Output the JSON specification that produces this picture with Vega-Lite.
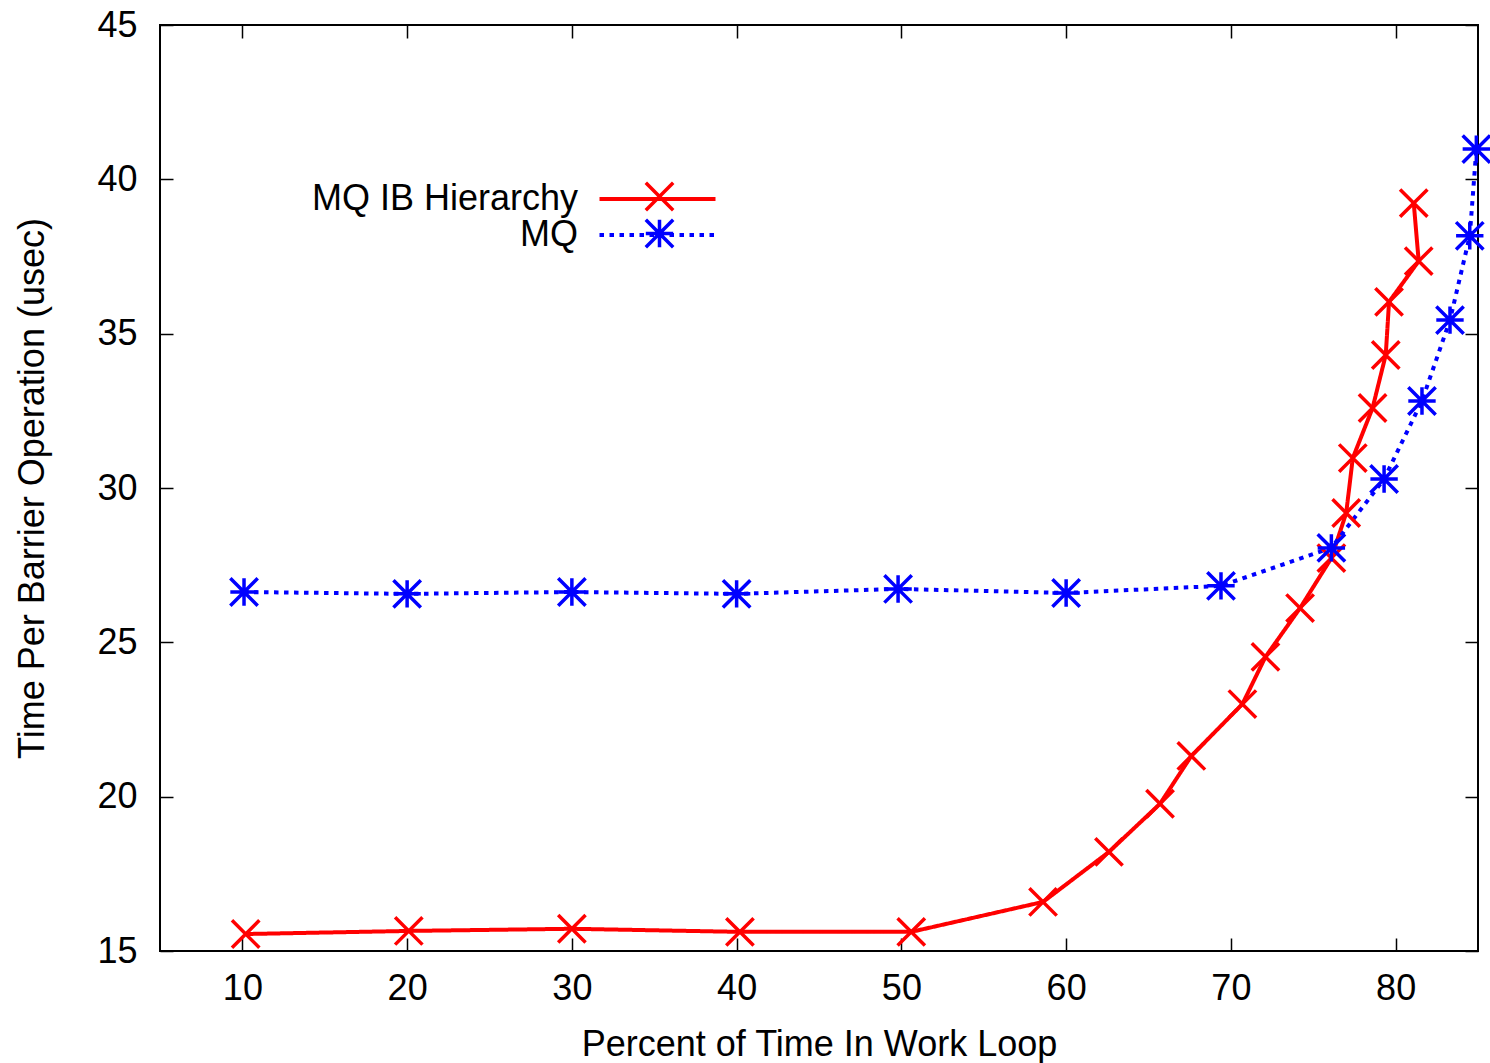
{
  "$schema": "https://vega.github.io/schema/vega-lite/v6.json",
  "width": 1318,
  "height": 926,
  "autosize": {"type": "none"},
  "padding": {"left": 160, "top": 25, "right": 12, "bottom": 112},
  "background": "white",
  "config": {
    "font": "Liberation Sans",
    "view": {"stroke": "black", "strokeWidth": 2},
    "axis": {
      "grid": false,
      "domain": false,
      "tickColor": "black",
      "tickWidth": 1.5,
      "tickSize": -13,
      "labelFont": "Liberation Sans",
      "labelFontSize": 36,
      "labelColor": "black",
      "titleFont": "Liberation Sans",
      "titleFontSize": 36,
      "titleFontWeight": "normal",
      "titleColor": "black"
    },
    "legend": {"labelFont": "Liberation Sans", "labelColor": "black", "labelLimit": 0}
  },
  "datasets": {
    "d": [
      {"series": "MQ IB Hierarchy", "x": 10.2, "y": 15.55},
      {"series": "MQ IB Hierarchy", "x": 20.1, "y": 15.65},
      {"series": "MQ IB Hierarchy", "x": 30, "y": 15.72},
      {"series": "MQ IB Hierarchy", "x": 40.2, "y": 15.62},
      {"series": "MQ IB Hierarchy", "x": 50.6, "y": 15.62},
      {"series": "MQ IB Hierarchy", "x": 58.6, "y": 16.59},
      {"series": "MQ IB Hierarchy", "x": 62.6, "y": 18.21},
      {"series": "MQ IB Hierarchy", "x": 65.7, "y": 19.77},
      {"series": "MQ IB Hierarchy", "x": 67.6, "y": 21.32},
      {"series": "MQ IB Hierarchy", "x": 70.7, "y": 23.0},
      {"series": "MQ IB Hierarchy", "x": 72.1, "y": 24.53},
      {"series": "MQ IB Hierarchy", "x": 74.2, "y": 26.11},
      {"series": "MQ IB Hierarchy", "x": 76.1, "y": 27.73},
      {"series": "MQ IB Hierarchy", "x": 77.0, "y": 29.19},
      {"series": "MQ IB Hierarchy", "x": 77.4, "y": 30.97},
      {"series": "MQ IB Hierarchy", "x": 78.6, "y": 32.59},
      {"series": "MQ IB Hierarchy", "x": 79.4, "y": 34.31},
      {"series": "MQ IB Hierarchy", "x": 79.6, "y": 36.03},
      {"series": "MQ IB Hierarchy", "x": 81.4, "y": 37.35},
      {"series": "MQ IB Hierarchy", "x": 81.1, "y": 39.23},
      {"series": "MQ", "x": 10.1, "y": 26.63},
      {"series": "MQ", "x": 20, "y": 26.57},
      {"series": "MQ", "x": 30, "y": 26.63},
      {"series": "MQ", "x": 40, "y": 26.57},
      {"series": "MQ", "x": 49.8, "y": 26.73},
      {"series": "MQ", "x": 60, "y": 26.6},
      {"series": "MQ", "x": 69.4, "y": 26.83},
      {"series": "MQ", "x": 76.1, "y": 28.06},
      {"series": "MQ", "x": 79.3, "y": 30.29},
      {"series": "MQ", "x": 81.6, "y": 32.82},
      {"series": "MQ", "x": 83.3, "y": 35.44},
      {"series": "MQ", "x": 84.5, "y": 38.17},
      {"series": "MQ", "x": 84.9, "y": 40.98}
    ]
  },
  "data": {"name": "d"},
  "layer": [
    {
      "mark": {"type": "line", "strokeWidth": 4},
      "encoding": {
        "x": {
          "field": "x", "type": "quantitative",
          "scale": {"domain": [5, 85], "nice": false, "zero": false},
          "axis": {"orient": "bottom", "values": [10, 20, 30, 40, 50, 60, 70, 80], "title": "Percent of Time In Work Loop", "labelPadding": 33, "titlePadding": 21}
        },
        "y": {
          "field": "y", "type": "quantitative",
          "scale": {"domain": [15, 45], "nice": false, "zero": false},
          "axis": {"orient": "left", "values": [15, 20, 25, 30, 35, 40, 45], "title": "Time Per Barrier Operation (usec)", "labelPadding": 36, "titlePadding": 45}
        },
        "color": {
          "field": "series", "type": "nominal",
          "scale": {"domain": ["MQ IB Hierarchy", "MQ"], "range": ["#ff0000", "#0000ff"]},
          "legend": {"orient": "none", "legendX": 479.5, "legendY": 156, "title": null, "symbolType": "M-4,0L4,0", "symbolSize": 841, "symbolStrokeWidth": 4, "labelFontSize": 36, "labelAlign": "right", "labelOffset": -97.5, "rowPadding": -8}
        },
        "strokeDash": {
          "field": "series", "type": "nominal",
          "scale": {"domain": ["MQ IB Hierarchy", "MQ"], "range": [[1, 0], [4.5, 5.5]]},
          "legend": {"orient": "none", "legendX": 479.5, "legendY": 156, "title": null, "symbolType": "M-4,0L4,0", "symbolSize": 841, "symbolStrokeWidth": 4, "labelFontSize": 36, "labelAlign": "right", "labelOffset": -97.5, "rowPadding": -8}
        },
        "order": {"value": null}
      }
    },
    {
      "mark": {"type": "point", "filled": false, "strokeWidth": 3.5, "size": 750, "opacity": 1},
      "encoding": {
        "x": {"field": "x", "type": "quantitative", "scale": {"domain": [5, 85], "nice": false, "zero": false}, "axis": null},
        "y": {"field": "y", "type": "quantitative", "scale": {"domain": [15, 45], "nice": false, "zero": false}, "axis": null},
        "shape": {
          "field": "series", "type": "nominal",
          "scale": {"domain": ["MQ IB Hierarchy", "MQ"], "range": ["M-1,-1L1,1M-1,1L1,-1", "M-1,0L1,0M0,-1L0,1M-1,-1L1,1M-1,1L1,-1"]},
          "legend": {"orient": "none", "legendX": 484, "legendY": 156, "title": null, "symbolSize": 750, "symbolStrokeWidth": 3.5, "labelOpacity": 0, "labelFontSize": 1, "rowPadding": -6}
        },
        "color": {
          "field": "series", "type": "nominal",
          "scale": {"domain": ["MQ IB Hierarchy", "MQ"], "range": ["#ff0000", "#0000ff"]},
          "legend": {"orient": "none", "legendX": 484, "legendY": 156, "title": null, "symbolSize": 750, "symbolStrokeWidth": 3.5, "labelOpacity": 0, "labelFontSize": 1, "rowPadding": -6}
        }
      }
    },
    {
      "mark": {"type": "point", "opacity": 0},
      "encoding": {
        "x": {"field": "x", "type": "quantitative", "scale": {"domain": [5, 85], "nice": false, "zero": false}, "axis": {"orient": "top", "values": [10, 20, 30, 40, 50, 60, 70, 80], "labels": false, "title": null}},
        "y": {"field": "y", "type": "quantitative", "scale": {"domain": [15, 45], "nice": false, "zero": false}, "axis": {"orient": "right", "values": [15, 20, 25, 30, 35, 40, 45], "labels": false, "title": null}}
      }
    }
  ],
  "resolve": {
    "axis": {"x": "independent", "y": "independent"},
    "legend": {"color": "independent", "shape": "independent", "strokeDash": "independent"}
  }
}
